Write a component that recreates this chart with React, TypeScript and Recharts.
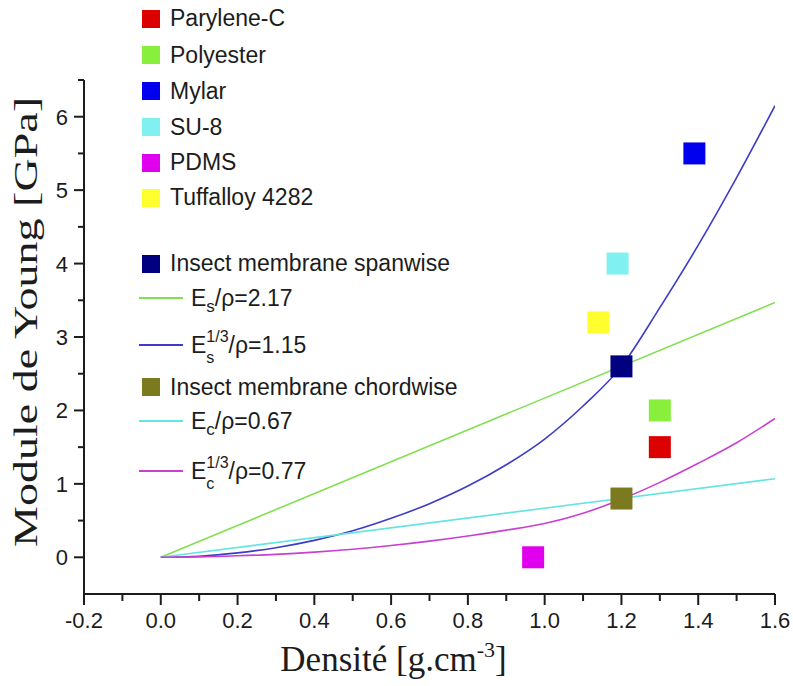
import { ComposedChart, Line, Scatter, XAxis, YAxis, Legend, Label } from 'recharts';

// materials (square markers)
const materialNames = ['Parylene-C', 'Polyester', 'Mylar', 'SU-8', 'PDMS', 'Tuffalloy 4282'];
const materialDensity = [1.3, 1.3, 1.39, 1.19, 0.97, 1.14];
const materialModulus = [1.5, 2.0, 5.5, 4.0, 0.0, 3.2];
const materialColors = ['#dd0000', '#88f03c', '#0000ee', '#80f0f0', '#e000ee', '#ffff30'];

// insect membrane measurements
const insectNames = ['Insect membrane spanwise', 'Insect membrane chordwise'];
const insectDensity = [1.2, 1.2];
const insectModulus = [2.6, 0.8];
const insectColors = ['#000080', '#7c7a1e'];

// model curves
const curveDensity = [0, 0.1, 0.2, 0.3, 0.4, 0.5, 0.6, 0.7, 0.8, 0.9, 1.0, 1.1, 1.2, 1.3, 1.4, 1.5, 1.6];
const spanCubeModulus = [0, 0.015, 0.06, 0.13, 0.23, 0.36, 0.53, 0.73, 0.97, 1.26, 1.61, 2.06, 2.6, 3.4, 4.25, 5.17, 6.15];
const chordCubeModulus = [0, 0.005, 0.02, 0.04, 0.07, 0.11, 0.16, 0.22, 0.29, 0.37, 0.46, 0.6, 0.79, 1.02, 1.28, 1.56, 1.89];
const lineDensity = [0, 1.6];
const spanLinearModulus = [0, 3.47];
const chordLinearModulus = [0, 1.07];

const xTicks = [-0.2, -0.1, 0, 0.1, 0.2, 0.3, 0.4, 0.5, 0.6, 0.7, 0.8, 0.9, 1.0, 1.1, 1.2, 1.3, 1.4, 1.5, 1.6];
const yTicks = [0, 0.5, 1, 1.5, 2, 2.5, 3, 3.5, 4, 4.5, 5, 5.5, 6, 6.5];

const toPoints = (xs: number[], ys: number[]) => xs.map((x, i) => ({ x, y: ys[i] }));

const sans = 'Arial, "Liberation Sans", sans-serif';
const serif = '"Times New Roman", "Liberation Serif", serif';
const ink = '#1c1c1c';

const square = (fill: string) => (props: any) => (
    <rect x={props.cx - 11} y={props.cy - 11} width={22} height={22} fill={fill} />
);

const XTick = ({ x, y, payload, index }: any) => {
    const major = index % 2 === 0;
    return (
        <g>
            <line x1={x} x2={x} y1={y} y2={y + (major ? 11 : 7)} stroke={ink} strokeWidth={2} />
            {major && (
                <text x={x} y={y + 34} textAnchor='middle' fontFamily={sans} fontSize={22} fill={ink}>
                    {payload.value.toFixed(1)}
                </text>
            )}
        </g>
    );
};

const YTick = ({ x, y, payload }: any) => {
    const major = Number.isInteger(payload.value);
    return (
        <g>
            <line x1={x} x2={x - (major ? 10 : 6)} y1={y} y2={y} stroke={ink} strokeWidth={2} />
            {major && (
                <text x={x - 16} y={y + 8} textAnchor='end' fontFamily={sans} fontSize={22} fill={ink}>
                    {payload.value}
                </text>
            )}
        </g>
    );
};

const Formula = ({ sub, cube, value }: any) => (
    <span style={{ display: 'inline-flex', alignItems: 'center' }}>
        E
        {cube ? (
            <span style={{ display: 'inline-flex', flexDirection: 'column', fontSize: 16, lineHeight: '15px', gap: 6, marginTop: 4 }}>
                <span>1/3</span>
                <span>{sub}</span>
            </span>
        ) : (
            <span style={{ fontSize: 17, position: 'relative', top: 9 }}>{sub}</span>
        )}
        /ρ={value}
    </span>
);

const LegendBox = () => {
    const sq = (color: string, top: number, label: string) => (
        <div key={label} style={{ position: 'absolute', left: 142, top: top - 15, height: 30, display: 'flex', alignItems: 'center', whiteSpace: 'nowrap' }}>
            <span style={{ width: 18, height: 18, background: color, display: 'inline-block', marginRight: 10 }} />
            {label}
        </div>
    );
    const ln = (color: string, top: number, f: any) => (
        <div style={{ position: 'absolute', left: 139, top: top - 22, height: 44, display: 'flex', alignItems: 'center', whiteSpace: 'nowrap' }}>
            <span style={{ width: 44, height: 1.5, background: color, display: 'inline-block', marginRight: 8 }} />
            {f}
        </div>
    );
    const matTops = [18.5, 55, 91, 127, 162.5, 197.5];
    return (
        <div style={{ position: 'relative', width: 793, height: 686, fontFamily: sans, fontSize: 23, color: ink }}>
            {materialNames.map((n, i) => sq(materialColors[i], matTops[i], n))}
            {sq(insectColors[0], 263.5, insectNames[0])}
            {ln('#80e050', 298, <Formula sub='s' value='2.17' />)}
            {ln('#3c3cc8', 345, <Formula sub='s' cube value='1.15' />)}
            {sq(insectColors[1], 387, insectNames[1])}
            {ln('#66e4e4', 421, <Formula sub='c' value='0.67' />)}
            {ln('#c840d0', 471, <Formula sub='c' cube value='0.77' />)}
        </div>
    );
};

const YTitle = ({ viewBox }: any) => (
    <text
        transform={`translate(${viewBox.x + 37}, ${viewBox.y + viewBox.height / 2 - 15}) rotate(-90)`}
        textAnchor='middle'
        fontFamily={serif}
        fontSize={34}
        fill={ink}
        textLength={450}
        lengthAdjust='spacingAndGlyphs'
    >
        Module de Young [GPa]
    </text>
);

const XTitle = ({ viewBox }: any) => (
    <text x={viewBox.x + viewBox.width / 2 - 36} y={viewBox.y + 77} textAnchor='middle' fontFamily={serif} fontSize={35} fill={ink}>
        Densité [g.cm
        <tspan fontSize={22} dy={-14}>-3</tspan>
        <tspan dy={14}>]</tspan>
    </text>
);

const App = () => {
    return (
        <div style={{ position: 'absolute', left: 0, top: 0, background: '#fff' }}>
            <ComposedChart width={793} height={686} margin={{ top: 80, right: 18, bottom: 32, left: 0 }}>
                <XAxis
                    type='number'
                    dataKey='x'
                    domain={[-0.2, 1.6]}
                    ticks={xTicks}
                    interval={0}
                    tickSize={0}
                    tickMargin={0}
                    tickLine={false}
                    tick={<XTick />}
                    height={60}
                    stroke={ink}
                    strokeWidth={2}
                    allowDataOverflow
                >
                    <Label content={<XTitle />} />
                </XAxis>
                <YAxis
                    type='number'
                    dataKey='y'
                    domain={[-0.5, 6.5]}
                    ticks={yTicks}
                    interval={0}
                    tickSize={0}
                    tickMargin={0}
                    tickLine={false}
                    tick={<YTick />}
                    width={84}
                    stroke={ink}
                    strokeWidth={2}
                    allowDataOverflow
                >
                    <Label content={<YTitle />} />
                </YAxis>
                <Legend
                    layout='vertical'
                    align='center'
                    verticalAlign='middle'
                    content={<LegendBox />}
                    wrapperStyle={{ left: 0, top: 0, width: 793, height: 686, pointerEvents: 'none' }}
                />
                {materialNames.map((n, i) => (
                    <Scatter
                        key={n}
                        name={n}
                        data={[{ x: materialDensity[i], y: materialModulus[i] }]}
                        dataKey='y'
                        shape={square(materialColors[i])}
                        isAnimationActive={false}
                    />
                ))}
                {insectNames.map((n, i) => (
                    <Scatter
                        key={n}
                        name={n}
                        data={[{ x: insectDensity[i], y: insectModulus[i] }]}
                        dataKey='y'
                        shape={square(insectColors[i])}
                        isAnimationActive={false}
                    />
                ))}
                <Line data={toPoints(lineDensity, spanLinearModulus)} dataKey='y' name='Es/ρ=2.17' stroke='#80e050' strokeWidth={1.6} dot={false} isAnimationActive={false} />
                <Line data={toPoints(curveDensity, spanCubeModulus)} dataKey='y' name='Es^1/3/ρ=1.15' type='monotone' stroke='#3c3cc8' strokeWidth={1.6} dot={false} isAnimationActive={false} />
                <Line data={toPoints(lineDensity, chordLinearModulus)} dataKey='y' name='Ec/ρ=0.67' stroke='#66e4e4' strokeWidth={1.6} dot={false} isAnimationActive={false} />
                <Line data={toPoints(curveDensity, chordCubeModulus)} dataKey='y' name='Ec^1/3/ρ=0.77' type='monotone' stroke='#c840d0' strokeWidth={1.6} dot={false} isAnimationActive={false} />
            </ComposedChart>
        </div>
    );
};

export default App;
